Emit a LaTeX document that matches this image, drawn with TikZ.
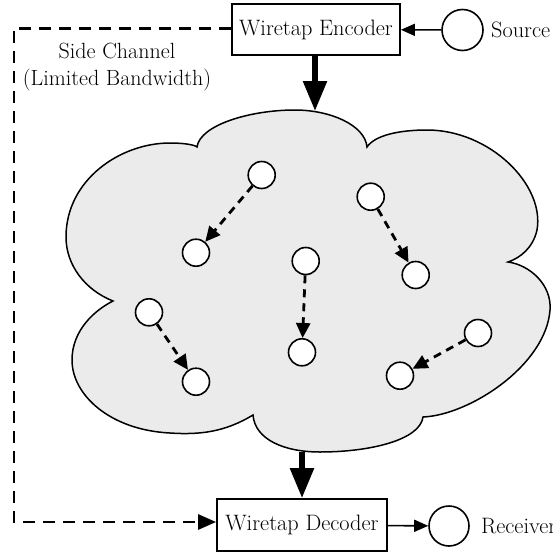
\documentclass[tikz,border=0pt]{standalone}
\usepackage{fontspec}
\usetikzlibrary{arrows.meta}
\definecolor{cloudgray}{HTML}{EBEBEB}
\begin{document}
\begin{tikzpicture}[x=1pt,y=-1pt,
  font=\fontsize{22.3}{27}\selectfont,
  box/.style={draw, line width=1.8pt, fill=white, minimum width=168pt, minimum height=51pt, inner sep=0pt},
  bigcirc/.style={circle, draw, line width=1.6pt, fill=white, minimum size=41pt, inner sep=0pt},
  dot/.style={circle, draw, line width=1.6pt, fill=white, minimum size=27pt, inner sep=0pt},
  thinarrow/.style={line width=1.6pt, -{Triangle[length=14pt,width=12pt]}},
  thickarrow/.style={line width=5.5pt, -{Triangle[length=30pt,width=23pt]}},
  sidech/.style={line width=2.8pt, dash pattern=on 12pt off 8pt, -{Triangle[length=18pt,width=15pt]}},
  hop/.style={line width=2.8pt, dash pattern=on 8pt off 6pt, -{Triangle[length=15pt,width=14pt]}}
]
\useasboundingbox (0,0) rectangle (552,554);

% cloud
\draw[line width=1.5pt, fill=cloudgray]
  (197,147) .. controls (200,125) and (250,110) .. (295,110)
            .. controls (330,110) and (365,125) .. (367,147)
            .. controls (375,135) and (400,130) .. (427,130)
            .. controls (490,130) and (545,185) .. (537,230)
            .. controls (533,248) and (520,258) .. (508,262)
            .. controls (530,265) and (552,285) .. (550,310)
            .. controls (546,365) and (470,415) .. (423,417)
            .. controls (420,440) and (370,452) .. (320,452)
            .. controls (285,452) and (255,440) .. (253,415)
            .. controls (225,432) and (200,435) .. (170,433)
            .. controls (110,430) and (72,395) .. (72,360)
            .. controls (72,330) and (95,310) .. (113,301)
            .. controls (85,290) and (66,265) .. (66,237)
            .. controls (66,180) and (120,143) .. (170,143)
            .. controls (185,143) and (195,145) .. (197,147) -- cycle;
\coordinate (ctop) at (315,111);
\coordinate (cbot) at (302,452);

% main blocks
\node[box] (enc) at (316,29.5) {Wiretap Encoder};
\node[box, minimum width=170pt, minimum height=52pt] (dec) at (302,525) {Wiretap Decoder};
\node[bigcirc] (src) at (462.5,30) {};
\node[anchor=west, inner sep=0pt] (srcl) at (491,30) {Source};
\node[bigcirc, minimum size=40pt] (rcv) at (449,526) {};
\node[anchor=west, inner sep=0pt] (rcvl) at (481,526) {Receiver};

\node[align=center, font=\fontsize{22}{27}\selectfont] (side) at (117,67) {Side Channel\\(Limited Bandwidth)};

% connectors
\draw[thinarrow] (src) -- (enc);
\draw[thinarrow] (dec) -- (rcv);
\draw[thickarrow] (enc.south -| ctop) -- (ctop);
\draw[thickarrow] (cbot) -- (dec.north -| cbot);
\coordinate (sw) at (14,28.3);
\draw[sidech] (enc.west |- sw) -- (sw) |- ([yshift=3pt]dec.west);

% network nodes
\node[dot] (a1) at (261.7,175) {};
\node[dot] (a2) at (196,252.7) {};
\node[dot] (b1) at (370.7,196.7) {};
\node[dot] (b2) at (415.7,275) {};
\node[dot] (c1) at (305.7,261) {};
\node[dot] (c2) at (302,352.3) {};
\node[dot] (d1) at (149,312.3) {};
\node[dot] (d2) at (196,381.7) {};
\node[dot] (e1) at (478,333) {};
\node[dot] (e2) at (400,375.7) {};

\draw[hop] (a1) -- (a2);
\draw[hop] (b1) -- (b2);
\draw[hop] (c1) -- (c2);
\draw[hop] (d1) -- (d2);
\draw[hop] (e1) -- (e2);
\end{tikzpicture}
\end{document}
